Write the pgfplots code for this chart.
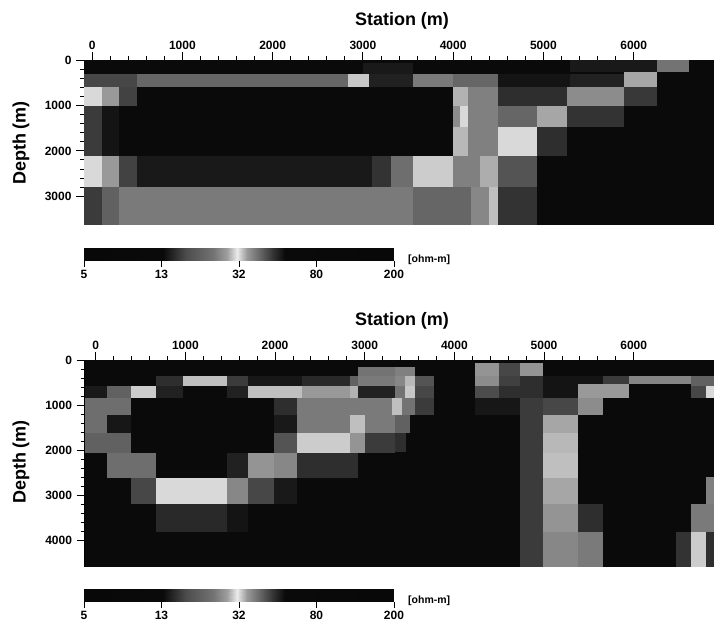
\documentclass[border=0pt]{standalone}
\usepackage{pgfplots}
\usepackage{fontspec}
\setmainfont{Liberation Sans}
\pgfplotsset{compat=1.18}
% one resistivity cell: x0 x1 y0 y1 brightness(0-100)
\newcommand\cell[5]{\addplot[draw=none,fill=white!#5!black,forget plot] coordinates {(#1,#3) (#2,#3) (#2,#4) (#1,#4)} --cycle;}
\pgfplotsset{
  sect/.style={
    scale only axis,
    y dir=reverse,
    axis x line*=top,
    axis y line*=left,
    axis line style={line width=1bp},
    tick align=outside,
    major tick length=8bp,
    minor tick length=4bp,
    every tick/.style={black,line width=0.9bp},
    xtick={0,1000,...,6000},
    minor x tick num=4,
    minor y tick num=4,
    /pgf/number format/assume math mode=true,
    /pgf/number format/1000 sep={},
    tick label style={font=\bfseries\fontsize{12bp}{13bp}\selectfont},
    xticklabel style={yshift=-1bp},
    yticklabel style={xshift=-1bp},
  },
  cbar/.style={
    scale only axis,
    xmin=0,xmax=4,ymin=0,ymax=1,
    width=310bp,height=13bp,
    axis x line*=bottom,
    axis y line=none,
    axis line style={draw=none},
    tick align=outside,
    major tick length=6bp,
    every tick/.style={black,line width=0.9bp},
    xtick={0,1,2,3,4},
    xticklabels={5,13,32,80,200},
    ytick=\empty,
    tick label style={font=\bfseries\fontsize{12bp}{13bp}\selectfont},
    colormap/blackwhite,
    point meta min=0,point meta max=1,
  },
}
\pgfplotstableread{
x y m
0.00 0 0.03
1.02 0 0.04
1.32 0 0.30
1.67 0 0.45
1.84 0 0.62
1.97 0 0.92
2.10 0 0.60
2.27 0 0.40
2.44 0 0.20
2.60 0 0.04
4.00 0 0.03
0.00 1 0.03
1.02 1 0.04
1.32 1 0.30
1.67 1 0.45
1.84 1 0.62
1.97 1 0.92
2.10 1 0.60
2.27 1 0.40
2.44 1 0.20
2.60 1 0.04
4.00 1 0.03
}\cbartable
\begin{document}
\begin{tikzpicture}
\path[use as bounding box] (0,0) rectangle (714bp,626bp);
% ---------- top section
\begin{axis}[sect,at={(84bp,400.5bp)},anchor=south west,width=630bp,height=165bp,
  xmin=-90,xmax=6890,ymin=0,ymax=3650,ytick={0,1000,2000,3000}]
\cell{-90}{6890}{0}{3650}{4}
% row 0-290
\cell{6259}{6611}{0}{260}{45}
\cell{5300}{6259}{0}{260}{10}
\cell{3000}{3556}{60}{290}{10}
% row 290-590
\cell{-90}{500}{290}{590}{28}
\cell{500}{2830}{290}{590}{40}
\cell{2830}{3070}{290}{590}{78}
\cell{3070}{3556}{290}{590}{13}
\cell{3556}{4000}{290}{590}{48}
\cell{4000}{4500}{290}{590}{40}
\cell{4500}{5300}{290}{590}{8}
\cell{5300}{5889}{290}{590}{13}
\cell{5889}{6259}{260}{590}{65}
% row 590-1000
\cell{-90}{107}{590}{1000}{85}
\cell{107}{300}{590}{1000}{60}
\cell{300}{496}{590}{1000}{26}
\cell{4000}{4165}{590}{1000}{70}
\cell{4165}{4500}{590}{1000}{50}
\cell{4500}{5259}{590}{1000}{18}
\cell{5259}{5889}{590}{1000}{55}
\cell{5889}{6259}{590}{1000}{22}
% row 1000-1480
\cell{-90}{107}{1000}{1480}{23}
\cell{107}{300}{1000}{1480}{8}
\cell{4000}{4075}{1000}{1480}{55}
\cell{4075}{4165}{1000}{1480}{85}
\cell{4165}{4500}{1000}{1480}{50}
\cell{4500}{4926}{1000}{1480}{40}
\cell{4926}{5259}{1000}{1480}{65}
\cell{5259}{5889}{1000}{1480}{20}
% row 1480-2110
\cell{-90}{107}{1480}{2110}{23}
\cell{107}{300}{1480}{2110}{8}
\cell{4000}{4165}{1480}{2110}{72}
\cell{4165}{4500}{1480}{2110}{50}
\cell{4500}{4926}{1480}{2110}{85}
\cell{4926}{5259}{1480}{2110}{18}
% row 2110-2800
\cell{-90}{107}{2110}{2800}{85}
\cell{107}{300}{2110}{2800}{60}
\cell{300}{496}{2110}{2800}{26}
\cell{496}{3100}{2110}{2800}{10}
\cell{3100}{3315}{2110}{2800}{20}
\cell{3315}{3556}{2110}{2800}{43}
\cell{3556}{4000}{2110}{2800}{80}
\cell{4000}{4300}{2110}{2800}{50}
\cell{4300}{4500}{2110}{2800}{68}
\cell{4500}{4926}{2110}{2800}{33}
% row 2800-3650
\cell{-90}{107}{2800}{3650}{23}
\cell{107}{300}{2800}{3650}{38}
\cell{300}{3556}{2800}{3650}{48}
\cell{3556}{4200}{2800}{3650}{40}
\cell{4200}{4400}{2800}{3650}{53}
\cell{4400}{4500}{2800}{3650}{75}
\cell{4500}{4926}{2800}{3650}{20}
\end{axis}
% ---------- bottom section
\begin{axis}[sect,at={(84.5bp,59.3bp)},anchor=south west,width=629.5bp,height=206.7bp,
  xmin=-125,xmax=6895,ymin=0,ymax=4590,ytick={0,1000,2000,3000,4000}]
\cell{-125}{6895}{0}{4590}{4}
% row 0-350
\cell{3335}{3563}{160}{350}{50}
\cell{2925}{3335}{160}{350}{45}
\cell{4230}{4500}{60}{350}{58}
\cell{4500}{4730}{60}{350}{28}
\cell{4730}{4990}{60}{350}{58}
% row 350-578
\cell{672}{975}{350}{578}{18}
\cell{975}{1468}{350}{578}{75}
\cell{1468}{1700}{350}{578}{23}
\cell{1700}{2300}{350}{578}{9}
\cell{2300}{2840}{350}{578}{16}
\cell{2840}{2925}{350}{578}{38}
\cell{2925}{3335}{350}{578}{48}
\cell{3335}{3450}{350}{578}{53}
\cell{3450}{3563}{350}{578}{72}
\cell{3563}{3767}{350}{578}{33}
\cell{4230}{4500}{350}{578}{55}
\cell{4500}{4730}{350}{578}{25}
\cell{4730}{4990}{350}{578}{18}
\cell{4990}{5655}{350}{578}{8}
\cell{5655}{5950}{350}{530}{23}
\cell{5950}{6637}{350}{530}{52}
\cell{6637}{6895}{350}{578}{38}
% row 578-850
\cell{-125}{130}{578}{850}{10}
\cell{130}{392}{578}{850}{38}
\cell{392}{672}{578}{850}{80}
\cell{672}{975}{578}{850}{13}
\cell{1468}{1700}{578}{850}{13}
\cell{1700}{2300}{578}{850}{75}
\cell{2300}{2840}{578}{850}{60}
\cell{2840}{2925}{578}{850}{70}
\cell{2925}{3335}{578}{850}{13}
\cell{3335}{3450}{578}{850}{45}
\cell{3450}{3563}{578}{850}{78}
\cell{3563}{3767}{578}{850}{28}
\cell{4230}{4500}{578}{850}{30}
\cell{4500}{4730}{578}{850}{18}
\cell{4730}{4990}{578}{850}{18}
\cell{4990}{5378}{578}{850}{8}
\cell{5378}{5950}{530}{850}{60}
\cell{6637}{6804}{578}{850}{28}
\cell{6804}{6895}{578}{850}{85}
% row 850-1220
\cell{-125}{392}{850}{1220}{43}
\cell{1984}{2245}{850}{1220}{18}
\cell{2245}{2840}{850}{1220}{48}
\cell{2840}{3300}{850}{1220}{48}
\cell{3300}{3420}{850}{1220}{75}
\cell{3420}{3563}{850}{1220}{45}
\cell{3563}{3767}{850}{1220}{23}
\cell{4230}{4730}{850}{1220}{9}
\cell{4730}{4990}{850}{1220}{23}
\cell{4990}{5378}{850}{1220}{28}
\cell{5378}{5655}{850}{1220}{55}
% row 1220-1630
\cell{-125}{130}{1220}{1630}{43}
\cell{130}{392}{1220}{1630}{9}
\cell{1984}{2245}{1220}{1630}{10}
\cell{2245}{2840}{1220}{1630}{48}
\cell{2840}{3000}{1220}{1630}{75}
\cell{3000}{3335}{1220}{1630}{48}
\cell{3335}{3500}{1220}{1630}{38}
\cell{4730}{4990}{1220}{1630}{23}
\cell{4990}{5378}{1220}{1630}{65}
% row 1630-2060
\cell{-125}{392}{1630}{2060}{38}
\cell{1984}{2245}{1630}{2060}{33}
\cell{2245}{2840}{1630}{2060}{80}
\cell{2840}{3000}{1630}{2060}{58}
\cell{3000}{3335}{1630}{2060}{23}
\cell{3335}{3460}{1630}{2050}{18}
\cell{4730}{4990}{1630}{2060}{23}
\cell{4990}{5378}{1630}{2060}{72}
% row 2060-2615
\cell{130}{672}{2060}{2615}{43}
\cell{1468}{1700}{2060}{2615}{13}
\cell{1700}{1984}{2060}{2615}{58}
\cell{1984}{2245}{2060}{2615}{53}
\cell{2245}{2925}{2060}{2615}{18}
\cell{4730}{4990}{2060}{2615}{23}
\cell{4990}{5378}{2060}{2615}{75}
\cell{6804}{6895}{2600}{3200}{50}
% row 2615-3200
\cell{392}{672}{2615}{3200}{28}
\cell{672}{1468}{2615}{3200}{85}
\cell{1468}{1700}{2615}{3200}{53}
\cell{1700}{1984}{2615}{3200}{28}
\cell{1984}{2245}{2615}{3200}{10}
\cell{4730}{4990}{2615}{3200}{23}
\cell{4990}{5378}{2615}{3200}{65}
% row 3200-3830
\cell{672}{1468}{3200}{3830}{16}
\cell{1468}{1700}{3200}{3830}{8}
\cell{4730}{4990}{3200}{3830}{23}
\cell{4990}{5378}{3200}{3830}{58}
\cell{5378}{5655}{3200}{3830}{18}
\cell{6637}{6804}{3200}{3830}{48}
\cell{6804}{6895}{3200}{3830}{48}
% row 3830-4590
\cell{4730}{4990}{3830}{4590}{23}
\cell{4990}{5378}{3830}{4590}{53}
\cell{5378}{5655}{3830}{4590}{48}
\cell{6470}{6637}{3830}{4590}{20}
\cell{6637}{6804}{3830}{4590}{80}
\cell{6804}{6895}{3830}{4590}{18}
\end{axis}
% ---------- colour bars
\begin{axis}[cbar,at={(84bp,365bp)},anchor=south west]
\addplot[surf,shader=interp,mesh/rows=2,point meta=\thisrow{m}] table[x=x,y=y] {\cbartable};
\end{axis}
\begin{axis}[cbar,at={(84bp,24bp)},anchor=south west]
\addplot[surf,shader=interp,mesh/rows=2,point meta=\thisrow{m}] table[x=x,y=y] {\cbartable};
\end{axis}
% ---------- texts
\newcommand\ttl{\bfseries\fontsize{18bp}{20bp}\selectfont}
\node[font=\ttl] at (402bp,605.5bp) {Station (m)};
\node[font=\ttl] at (402bp,305.5bp) {Station (m)};
\node[font=\ttl,rotate=90] at (21bp,483bp) {Depth (m)};
\node[font=\ttl,rotate=90] at (21bp,164bp) {Depth (m)};
\node[font=\bfseries\fontsize{10.5bp}{11bp}\selectfont,anchor=west,inner sep=0pt] at (408bp,366bp) {[ohm-m]};
\node[font=\bfseries\fontsize{10.5bp}{11bp}\selectfont,anchor=west,inner sep=0pt] at (408bp,25bp) {[ohm-m]};
\end{tikzpicture}
\end{document}
